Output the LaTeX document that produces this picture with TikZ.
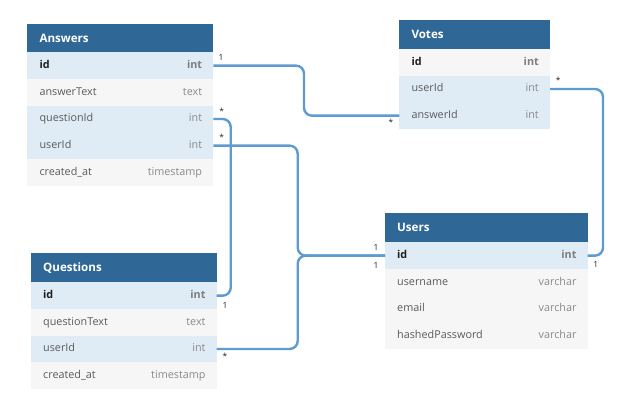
\documentclass[tikz,border=0pt]{standalone}
\usepackage{fontspec}
\setmainfont{Open Sans}
\definecolor{hdr}{HTML}{2F6897}
\definecolor{rowblue}{HTML}{DFECF5}
\definecolor{rowgray}{HTML}{F6F6F6}
\definecolor{fieldc}{HTML}{5A5A5A}
\definecolor{typec}{HTML}{8A8A8A}
\definecolor{idc}{HTML}{1E1E1E}
\definecolor{idtc}{HTML}{7E7E7E}
\definecolor{connc}{HTML}{5E9BD1}
\tikzset{
  hdrbox/.style={fill=hdr, draw=none, minimum height=29pt, inner sep=0pt, outer sep=0pt},
  hdrtext/.style={text=white, font=\fontsize{11.6}{13}\selectfont\bfseries, inner sep=0pt},
  rowbox/.style={draw=none, minimum height=26.67pt, inner sep=0pt, outer sep=0pt},
  fld/.style={text=fieldc, font=\fontsize{10.8}{12}\selectfont, inner sep=0pt, text height=7.8pt, text depth=2.4pt},
  typ/.style={text=typec, font=\fontsize{10.8}{12}\selectfont, inner sep=0pt, text height=7.8pt, text depth=2.4pt},
  idfld/.style={text=idc, font=\fontsize{10.8}{12}\selectfont\bfseries, inner sep=0pt, text height=7.8pt, text depth=2.4pt},
  idtyp/.style={text=idtc, font=\fontsize{10.8}{12}\selectfont\bfseries, inner sep=0pt, text height=7.8pt, text depth=2.4pt},
  conn/.style={draw=connc, line width=2.4pt, rounded corners=8pt},
  card/.style={text=black!85, font=\fontsize{8.4}{9}\selectfont, inner sep=0pt},
}
\newcommand\erHeader[5]{%
  \node[hdrbox, minimum width=#4pt, anchor=north west] (#1) at (#2,#3) {};
  \node[hdrtext, anchor=west] (#1-t) at ([xshift=12pt]#1.west) {#5};}
\newcommand\erRow[9]{%
  \node[rowbox, fill=#5, minimum width=#4pt, anchor=north west] (#1) at (#2,#3) {};
  \node[#8, anchor=west] (#1-f) at ([xshift=12pt]#1.west) {#6};
  \node[#9, anchor=east] (#1-y) at ([xshift=-11pt]#1.east) {#7};}
\begin{document}
\begin{tikzpicture}[x=1pt,y=-1pt]
\useasboundingbox[fill=white] (0,0) rectangle (624,410);
% Answers
\erHeader{ah}{27.3}{23.5}{186}{Answers}
\erRow{a-id}{27.3}{52.3}{186}{rowblue}{id}{int}{idfld}{idtyp}
\erRow{a-answerText}{27.3}{78.97}{186}{rowgray}{answerText}{text}{fld}{typ}
\erRow{a-questionId}{27.3}{105.64}{186}{rowblue}{questionId}{int}{fld}{typ}
\erRow{a-userId}{27.3}{132.31}{186}{rowblue}{userId}{int}{fld}{typ}
\erRow{a-created}{27.3}{158.98}{186}{rowgray}{created\_at}{timestamp}{fld}{typ}
% Votes
\erHeader{vh}{399.3}{20}{150.7}{Votes}
\erRow{v-id}{399.3}{49}{150.7}{rowgray}{id}{int}{idfld}{idtyp}
\erRow{v-userId}{399.3}{75.67}{150.7}{rowblue}{userId}{int}{fld}{typ}
\erRow{v-answerId}{399.3}{102.34}{150.7}{rowblue}{answerId}{int}{fld}{typ}
% Questions
\erHeader{qh}{31}{253.3}{185.7}{Questions}
\erRow{q-id}{31}{282.3}{185.7}{rowblue}{id}{int}{idfld}{idtyp}
\erRow{q-questionText}{31}{308.97}{185.7}{rowgray}{questionText}{text}{fld}{typ}
\erRow{q-userId}{31}{335.64}{185.7}{rowblue}{userId}{int}{fld}{typ}
\erRow{q-created}{31}{362.31}{185.7}{rowgray}{created\_at}{timestamp}{fld}{typ}
% Users
\erHeader{uh}{385}{213.3}{202.7}{Users}
\erRow{u-id}{385}{242.3}{202.7}{rowblue}{id}{int}{idfld}{idtyp}
\erRow{u-username}{385}{268.97}{202.7}{rowgray}{username}{varchar}{fld}{typ}
\erRow{u-email}{385}{295.64}{202.7}{rowgray}{email}{varchar}{fld}{typ}
\erRow{u-hashed}{385}{322.31}{202.7}{rowgray}{hashedPassword}{varchar}{fld}{typ}
% connectors
\draw[conn] (a-id.east) -- ++(90.7,0) |- (v-answerId.west);
\draw[conn] (v-userId.east) -- ++(53,0) |- (u-id.east);
\draw[conn] (a-questionId.east) -- ++(17.4,0) |- (q-id.east);
\draw[conn] (a-userId.east) -- ++(84.4,0) |- (u-id.west);
\draw[conn] (q-userId.east) -- ++(81,0) |- (u-id.west);
% cardinalities
\node[card] (c1) at (221,57.3) {1};
\node[card] (c2) at (391,122.8) {*};
\node[card] (c3) at (558.3,80.1) {*};
\node[card] (c4) at (595.7,264.3) {1};
\node[card] (c5) at (221.7,111.1) {*};
\node[card] (c6) at (225,305) {1};
\node[card] (c7) at (221.7,137.8) {*};
\node[card] (c8) at (225,356.8) {*};
\node[card] (c9) at (376,247.7) {1};
\node[card] (c10) at (376,265) {1};
\end{tikzpicture}
\end{document}
